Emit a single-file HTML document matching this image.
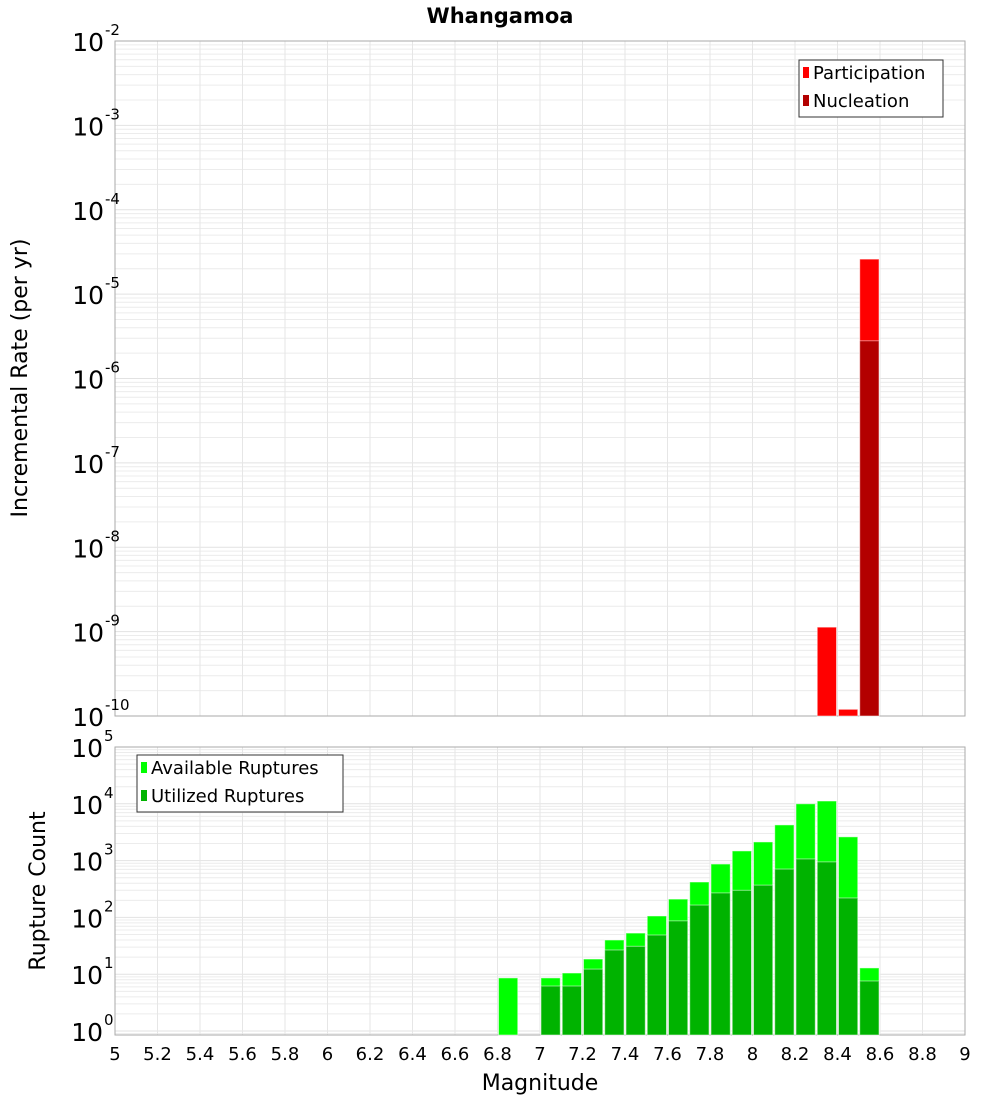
<!DOCTYPE html>
<html><head><meta charset="utf-8"><style>
body{margin:0;background:#fff;}
svg{display:block;font-family:"DejaVu Sans","Liberation Sans",sans-serif;}
</style></head><body>
<svg id="c" width="1000" height="1100" xmlns="http://www.w3.org/2000/svg">
<text x="500" y="23" text-anchor="middle" font-size="21" font-weight="bold">Whangamoa</text>
<text transform="translate(27,378) rotate(-90)" text-anchor="middle" font-size="22">Incremental Rate (per yr)</text>
<text transform="translate(45,891) rotate(-90)" text-anchor="middle" font-size="22">Rupture Count</text>
<text x="540" y="1090" text-anchor="middle" font-size="22">Magnitude</text>
<g id="g"></g>
</svg>
<script>
const xTicks=["5","5.2","5.4","5.6","5.8","6","6.2","6.4","6.6","6.8","7","7.2","7.4","7.6","7.8","8","8.2","8.4","8.6","8.8","9"];
const topBins=[8.35,8.45,8.55];
const participation=[1.13e-9,1.2e-10,2.6e-5];
const nucleationBins=[8.55];
const nucleation=[2.8e-6];
const botBins=[6.85,7.05,7.15,7.25,7.35,7.45,7.55,7.65,7.75,7.85,7.95,8.05,8.15,8.25,8.35,8.45,8.55];
const available=[8.6,8.6,10.5,18.5,40,53,106,210,420,870,1480,2130,4250,10000,11200,2620,12.9];
const utilized=[0,6.2,6.2,12.3,26.7,31,49,87,165,270,300,370,710,1070,950,220,7.6];
const topExps=[-2,-3,-4,-5,-6,-7,-8,-9,-10];
const botExps=[5,4,3,2,1,0];

const NS="http://www.w3.org/2000/svg";
const g=document.getElementById('g');
function el(t,a,parent){const e=document.createElementNS(NS,t);for(const k in a)e.setAttribute(k,a[k]);(parent||g).appendChild(e);return e;}
const X0=115,X1=965;
const xs=m=>X0+(m-5)/4*(X1-X0);
const T={top:41,bot:716,lo:-10,hi:-2};
const B={top:747,bot:1035,lo:-0.07,hi:5};
const ys=(P,v)=>P.bot-(Math.log10(v)-P.lo)/(P.hi-P.lo)*(P.bot-P.top);

function frame(P,exps,name,numEnd){
  const gg=el('g',{});
  
  
  for(let d=Math.floor(P.lo);d<P.hi;d++)for(let k=1;k<10;k++){
    const v=Math.log10(k)+d; if(v<P.lo||v>P.hi)continue;
    const y=ys(P,Math.pow(10,v));
    el('line',{x1:X0,x2:X1,y1:y,y2:y,stroke:k==1?'#e2e2e2':'#ececec','stroke-width':1},gg);
  }
  for(let i=0;i<xTicks.length;i++){const x=xs(+xTicks[i]);el('line',{x1:x,x2:x,y1:P.top,y2:P.bot,stroke:'#e6e6e6'},gg);}
  const r=el('rect',{x:X0,y:P.top,width:X1-X0,height:P.bot-P.top,fill:'none',stroke:'#aaa'});
  
  
  exps.forEach(e=>{
    const y=ys(P,Math.pow(10,e));
    const t=el('text',{x:numEnd,y:y+10,'text-anchor':'end','font-size':25});
    
    
    t.textContent='10';
    const s=el('text',{x:numEnd+1,y:y-6,'font-size':15});
    
    
    s.textContent=String(e);
  });
}
frame(T,topExps,'top',104);
frame(B,botExps,'bottom',103);

function bar(P,m,v,fill,name){
  if(!(v>0))return;
  const x=xs(m-0.05)+1,w=xs(m+0.05)-xs(m-0.05)-2;
  const y=Math.max(P.top,ys(P,v));
  const r=el('rect',{x:x,y:y,width:w,height:P.bot-y,fill:fill,stroke:'#fff','stroke-opacity':0.5,'stroke-width':1});
  
  
}
topBins.forEach((m,i)=>bar(T,m,participation[i],'#ff0000','participation-bar'));
nucleationBins.forEach((m,i)=>bar(T,m,nucleation[i],'#b30000','nucleation-bar'));
botBins.forEach((m,i)=>bar(B,m,available[i],'#00ff00','available-bar'));
botBins.forEach((m,i)=>bar(B,m,utilized[i],'#00b300','utilized-bar'));

xTicks.forEach(t=>{
  const e=el('text',{x:xs(+t),y:1060,'text-anchor':'middle','font-size':18});
  
  
  e.textContent=t;
});

function legend(x,y,w,items,name){
  const lg=el('g',{});
  
  
  el('rect',{x:x,y:y,width:w,height:57,fill:'#fff',stroke:'#333'},lg);
  items.forEach((it,i)=>{
    el('rect',{x:x+4,y:y+12+i*28-5,width:6,height:11,fill:it[1]},lg);
    const t=el('text',{x:x+14,y:y+19+i*28,'font-size':18},lg);
    t.textContent=it[0];
  });
}
legend(799,60,144,[['Participation','#ff0000'],['Nucleation','#b30000']],'top-legend');
legend(137,755,206,[['Available Ruptures','#00ff00'],['Utilized Ruptures','#00b300']],'bottom-legend');
</script>
</body></html>
